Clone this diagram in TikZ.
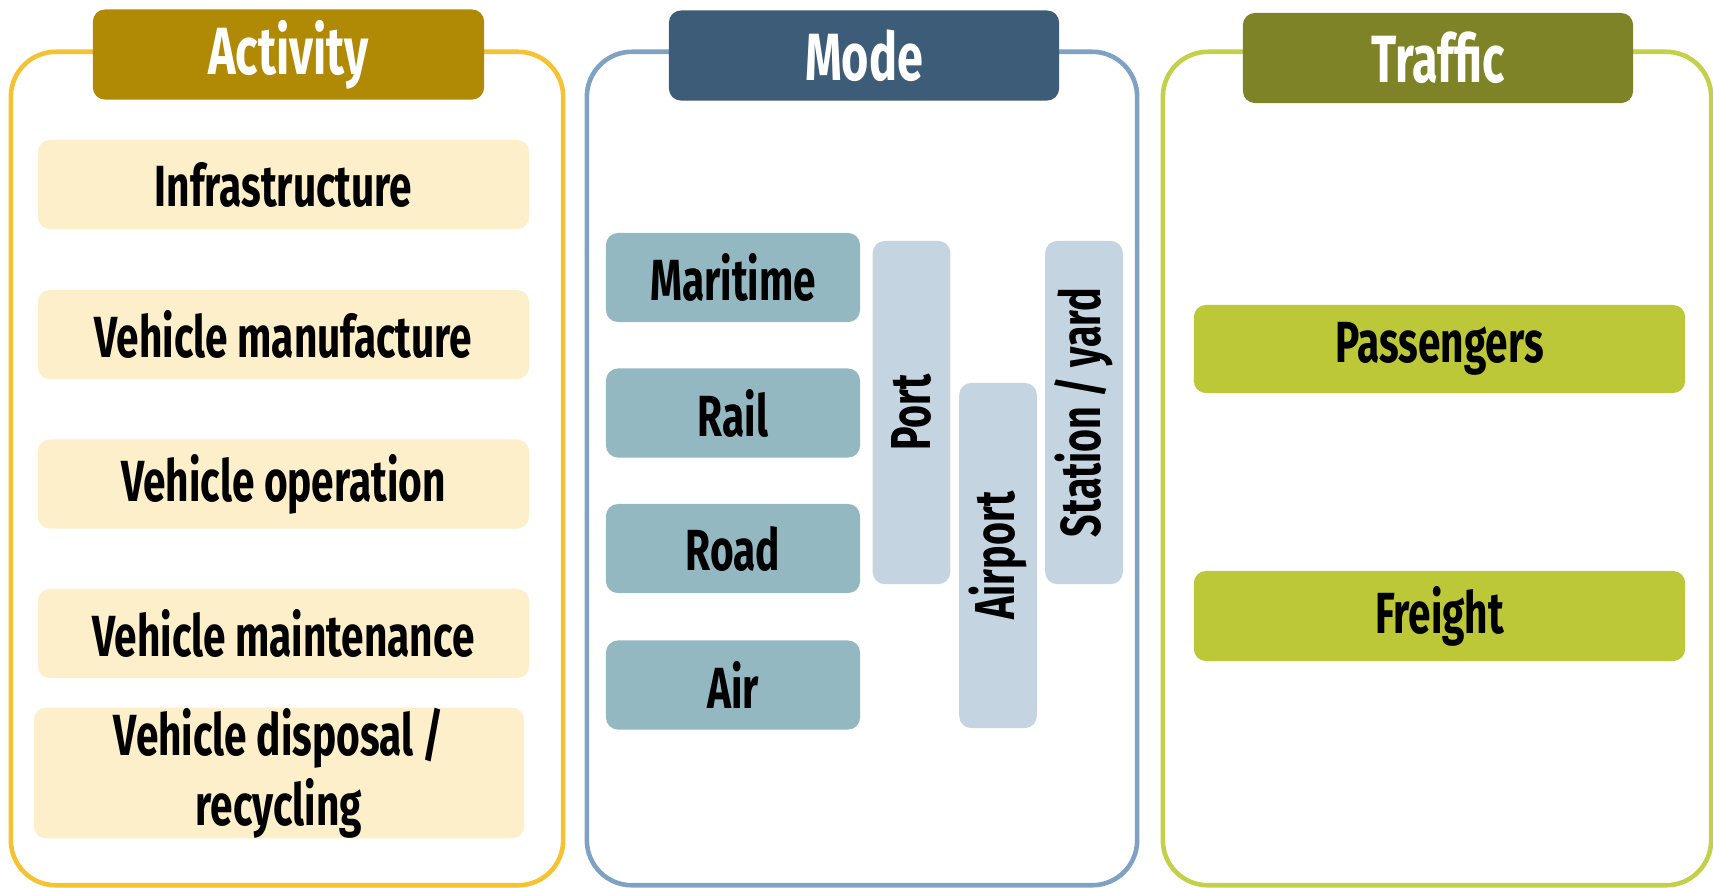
\documentclass[tikz,border=0pt]{standalone}
\usepackage{fontspec}
\setmainfont{Fira Sans}[FakeStretch=0.70, BoldFont=* Bold]
\definecolor{actHead}{HTML}{B08A05}
\definecolor{actLine}{HTML}{F5C232}
\definecolor{actBox}{HTML}{FCEFC9}
\definecolor{modHead}{HTML}{3D5C78}
\definecolor{modLine}{HTML}{7FA1C3}
\definecolor{modBox}{HTML}{93B8C2}
\definecolor{modBar}{HTML}{C4D4E1}
\definecolor{trfHead}{HTML}{7F8327}
\definecolor{trfLine}{HTML}{C4CF4A}
\definecolor{trfBox}{HTML}{BDC838}
\begin{document}
\begin{tikzpicture}[x=0.01cm,y=-0.01cm,
  frame/.style={draw, line width=1.3pt, rounded corners=0.45cm, fill=white, inner sep=0pt},
  head/.style={rounded corners=0.12cm, inner sep=0pt, text=white, font=\bfseries\fontsize{19}{22}\selectfont, minimum height=0.9cm},
  item/.style={rounded corners=0.12cm, inner sep=0pt, text=black, font=\bfseries\fontsize{16.5}{19}\selectfont, align=center, minimum height=0.89cm},
  bar/.style={rounded corners=0.12cm, inner sep=0pt, fill=modBar, text=black, font=\bfseries\fontsize{16}{19}\selectfont, rotate=90, minimum height=0.775cm}
]
\useasboundingbox (0,0) rectangle (1713,887);
% frames
\node[frame, draw=actLine, minimum width=5.52cm, minimum height=8.33cm] (actframe) at (287,468.5) {};
\node[frame, draw=modLine, minimum width=5.50cm, minimum height=8.33cm] (modframe) at (862,468.5) {};
\node[frame, draw=trfLine, minimum width=5.48cm, minimum height=8.33cm] (trfframe) at (1437,468.5) {};
% headers
\node[head, fill=actHead, minimum width=3.91cm] (acthead) at (288.5,54.5) {Activity};
\node[head, fill=modHead, minimum width=3.90cm] (modhead) at (864,55.5) {Mode};
\node[head, fill=trfHead, minimum width=3.90cm] (trfhead) at (1438,58) {Traffic};
% activity items
\node[item, fill=actBox, minimum width=4.91cm] (infra) at (283.5,184.5) {Infrastructure};
\node[item, fill=actBox, minimum width=4.91cm] (manuf) at (283.5,334.5) {Vehicle manufacture};
\node[item, fill=actBox, minimum width=4.91cm] (oper) at (283.5,484) {Vehicle operation};
\node[item, fill=actBox, minimum width=4.91cm] (maint) at (283.5,633.5) {Vehicle maintenance};
\node[item, fill=actBox, minimum width=4.90cm, minimum height=1.26cm] (disp) at (279,773) {Vehicle disposal /\\[1pt]recycling};
% mode items
\node[item, fill=modBox, minimum width=2.54cm] (mari) at (733,277.5) {Maritime};
\node[item, fill=modBox, minimum width=2.54cm] (rail) at (733,413) {Rail};
\node[item, fill=modBox, minimum width=2.54cm] (road) at (733,548.5) {Road};
\node[item, fill=modBox, minimum width=2.54cm] (air) at (733,685) {Air};
\node[bar, minimum width=3.43cm] (port) at (911.5,412.5) {Port};
\node[bar, minimum width=3.45cm] (airport) at (998,555.5) {Airport};
\node[bar, minimum width=3.43cm] (station) at (1084,412.5) {Station / yard};
% traffic items
\node[item, fill=trfBox, minimum width=4.91cm, minimum height=0.88cm] (pass) at (1439.5,349) {Passengers};
\node[item, fill=trfBox, minimum width=4.91cm, minimum height=0.90cm] (freight) at (1439.5,616) {Freight};
\end{tikzpicture}
\end{document}
